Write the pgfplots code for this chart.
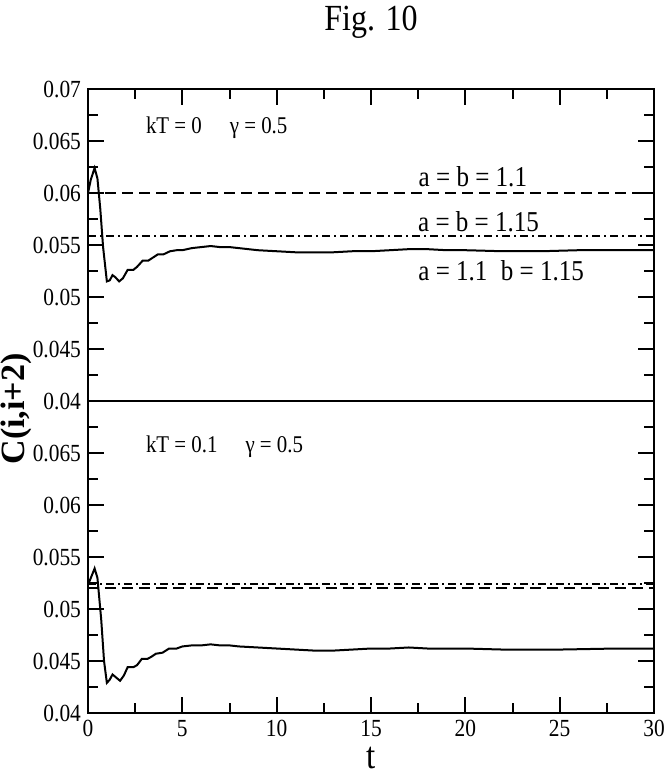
\documentclass[border=0pt]{standalone}
\usepackage{fontspec}
\setmainfont{Liberation Serif}[FakeStretch=0.87]
\newfontfamily\labelfont{Liberation Serif}
\usepackage{pgfplots}
\pgfplotsset{compat=1.18}

\begin{document}
\begin{tikzpicture}
\pgfplotsset{
  panel/.style={
    width=283pt, height=156pt, scale only axis,
    xmin=0, xmax=30, ymin=0.04, ymax=0.07,
    xtick={0,5,10,15,20,25,30},
    minor xtick={2.5,7.5,12.5,17.5,22.5,27.5},
    minor ytick={0.0425,0.0475,0.0525,0.0575,0.0625,0.0675},
    scaled y ticks=false,
    major tick length=8pt, minor tick length=5pt,
    every tick/.style={black, line width=1pt},
    tick align=inside,
    ytick pos=both,
    yticklabel pos=left,
    axis line style={line width=1pt},
    tick label style={font=\fontsize{12.3}{14}\selectfont},
    clip=false,
  },
  solid curve/.style={black, line width=1pt},
  dashed ref/.style={black, line width=1pt, dash pattern=on 5.5pt off 3pt},
  dashdot ref/.style={black, line width=1pt, dash pattern=on 4pt off 2pt on 1pt off 2pt},
}

% upper panel, kT = 0
\begin{axis}[panel, name=upper,
    xtick pos=right,
    xticklabels={},
    ytick={0.04,0.045,0.05,0.055,0.06,0.065,0.07},
    yticklabels={0.04,0.045,0.05,0.055,0.06,0.065,0.07},
]
\addplot[dashed ref] coordinates {(0,0.0600) (30,0.0600)};
\addplot[dashdot ref] coordinates {(0,0.0559) (30,0.0559)};
\addplot[solid curve] coordinates {
(0,0.0600) (0.15,0.0613) (0.35,0.0624) (0.5,0.0614) (0.65,0.0585) (0.8,0.0548)
(1.0,0.0515) (1.15,0.0516) (1.3,0.0521) (1.45,0.0519) (1.65,0.0515) (1.85,0.0518)
(2.1,0.0526) (2.4,0.0526) (2.6,0.0529) (2.9,0.0535) (3.2,0.0535) (3.45,0.0538)
(3.7,0.0541) (4.0,0.0541) (4.35,0.0544) (4.7,0.0545) (5.0,0.0545) (5.5,0.0547)
(6.0,0.0548) (6.5,0.0549) (7.0,0.0548) (7.5,0.0548) (8.0,0.0547) (9.0,0.0545)
(10,0.0544) (11,0.0543) (12,0.0543) (13,0.0543) (14,0.0544) (15,0.0544)
(16,0.0545) (17,0.0546) (18,0.0546) (19,0.0545) (20,0.0545) (22,0.0544)
(24,0.0544) (26,0.0545) (28,0.0545) (30,0.0545)
};
\node[anchor=west, font=\fontsize{12}{14}\selectfont] at (axis cs:2.7,0.0663)
  {kT = 0\hspace{14pt}γ = 0.5};
\node[anchor=base, font=\fontsize{14.4}{16}\selectfont] at (axis cs:20.4,0.0606) {a = b = 1.1};
\node[anchor=base, font=\fontsize{14.4}{16}\selectfont] at (axis cs:20.7,0.0563) {a = b = 1.15};
\node[anchor=base, font=\fontsize{14.4}{16}\selectfont] at (axis cs:21.9,0.0516) {a = 1.1\hspace{0.25em} b = 1.15};
\node[anchor=base, font=\fontsize{18.4}{20}\selectfont] at ([yshift=29.5pt]rel axis cs:0.5,1) {Fig. 10};
\end{axis}

% lower panel, kT = 0.1
\begin{axis}[panel, name=lower,
    at={(upper.south west)}, anchor=north west,
    xtick pos=left,
    xticklabels={0,5,10,15,20,25,30},
    ytick={0.04,0.045,0.05,0.055,0.06,0.065},
    yticklabels={0.04,0.045,0.05,0.055,0.06,0.065},
]
\addplot[dashed ref] coordinates {(0,0.0520) (30,0.0520)};
\addplot[dashdot ref] coordinates {(0,0.0524) (30,0.0524)};
\addplot[solid curve] coordinates {
(0,0.0523) (0.35,0.0539) (0.5,0.0530) (0.7,0.0490) (0.85,0.0450) (1.0,0.0429)
(1.15,0.0432) (1.3,0.0437) (1.5,0.0434) (1.7,0.0431) (1.9,0.0436) (2.1,0.0444)
(2.4,0.0444) (2.6,0.0446) (2.85,0.0452) (3.15,0.0452) (3.35,0.0454) (3.6,0.0457)
(3.95,0.0458) (4.3,0.0462) (4.7,0.0462) (5.0,0.0464) (5.5,0.0465) (6.0,0.0465)
(6.5,0.0466) (7.0,0.0465) (7.5,0.0465) (8.0,0.0464) (9,0.0463) (10,0.0462)
(11,0.0461) (12,0.0460) (13,0.0460) (14,0.0461) (15,0.0462) (16,0.0462)
(17,0.0463) (18,0.0462) (20,0.0462) (22,0.0461) (25,0.0461) (28,0.0462) (30,0.0462)
};
\node[anchor=west, font=\fontsize{12}{14}\selectfont] at (axis cs:2.7,0.0656)
  {kT = 0.1\hspace{14pt}γ = 0.5};
\node[inner sep=0pt, font=\fontsize{19}{22}\selectfont] at ([yshift=-22.5pt]rel axis cs:0.5,0) {t};
\node[inner sep=0pt, rotate=90, font=\labelfont\bfseries\fontsize{17}{20}\selectfont] at ([xshift=-36pt,yshift=-4pt]rel axis cs:0,1) {C(i,i+2)};
\end{axis}

\pgfresetboundingbox
\path ([xshift=-44pt,yshift=-31pt]lower.south west) rectangle ([xshift=5pt,yshift=44.5pt]upper.north east);
\end{tikzpicture}
\end{document}
